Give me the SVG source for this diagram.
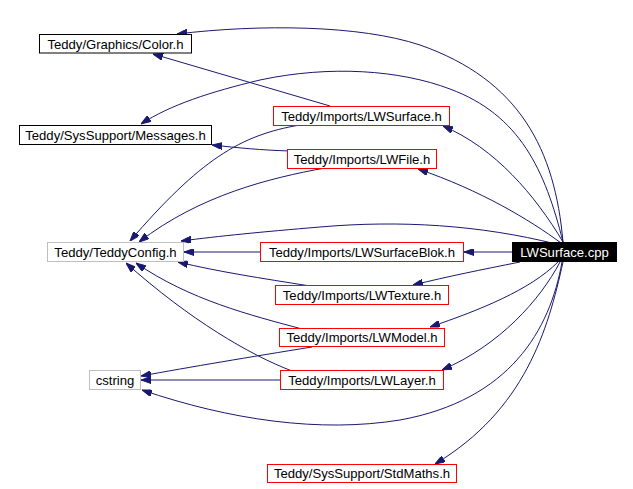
<svg xmlns="http://www.w3.org/2000/svg" width="633" height="489" viewBox="0 0 633 489">
<style>
.n rect{fill:#fff;stroke-width:1}
.b rect{stroke:#000}
.r rect{stroke:#f00}
.g rect{stroke:#bfbfbf}
.n text{font-family:"Liberation Sans",Arial,sans-serif;font-size:13.1px;text-anchor:middle;fill:#000}
.k rect{fill:#000;stroke:#000}
.k text{fill:#fff}
#edges path{fill:none;stroke:#191970;stroke-width:1;marker-end:url(#ah)}
</style>
<defs>
<marker id="ah" viewBox="0 0 10 7" refX="10" refY="3.5" markerWidth="10" markerHeight="7" markerUnits="userSpaceOnUse" orient="auto">
<path d="M0,0 L10,3.5 L0,7 z" fill="#191970" stroke="#191970"/>
</marker>
</defs>
<rect width="633" height="489" fill="#fff"/>
<g id="edges">
<path d="M563,242 C555,150 520,80 420,45 C360,25 260,24 177,34"/>
<path d="M563,242 C545,170 520,115 450,89 C400,70 330,65 260,80 C210,92 170,105 141,124"/>
<path d="M563,242 C535,195 495,148 443,126"/>
<path d="M561,243 C530,220 480,190 418,169"/>
<path d="M556,244 C480,225 400,220 320,227 C260,232 220,236 181,241"/>
<path d="M512,252 L464,252"/>
<path d="M260,252 L184,252"/>
<path d="M520,262 C480,270 450,276 413,285"/>
<path d="M558,262 C530,290 480,310 430,327"/>
<path d="M560,262 C540,300 500,345 442,370"/>
<path d="M562,262 C550,330 510,400 400,420 C320,433 230,420 142,390"/>
<path d="M563,262 C548,330 525,410 435,464"/>
<path d="M330,106 L153,54"/>
<path d="M290,151 C260,150 240,148 212,145"/>
<path d="M300,125 C240,135 200,160 130,241"/>
<path d="M325,168 C270,178 200,195 139,242"/>
<path d="M310,286 C260,278 220,272 178,262"/>
<path d="M302,329 C250,315 190,300 136,263"/>
<path d="M292,371 C250,355 190,320 126,263"/>
<path d="M312,347 C250,357 190,367 141,376"/>
<path d="M280,380 L141,380"/>
</g>
<g id="color" class="n b"><rect x="39.5" y="34.5" width="152" height="18.5"/><text x="115.5" y="48.5">Teddy/Graphics/Color.h</text></g>
<g id="messages" class="n b"><rect x="19.5" y="125.5" width="192" height="19"/><text x="115.5" y="139.5">Teddy/SysSupport/Messages.h</text></g>
<g id="teddyconfig" class="n g"><rect x="47.5" y="242.5" width="136" height="19"/><text x="115.5" y="256.5">Teddy/TeddyConfig.h</text></g>
<g id="cstring" class="n g"><rect x="89.5" y="370.5" width="51" height="19"/><text x="115" y="384.5">cstring</text></g>
<g id="lwsurfaceh" class="n r"><rect x="273.5" y="106.5" width="176" height="19"/><text x="361.5" y="120.5">Teddy/Imports/LWSurface.h</text></g>
<g id="lwfile" class="n r"><rect x="287.5" y="149.5" width="149" height="19"/><text x="362" y="163.5">Teddy/Imports/LWFile.h</text></g>
<g id="lwsurfaceblok" class="n r"><rect x="260.5" y="242.5" width="203" height="19"/><text x="362" y="256.5">Teddy/Imports/LWSurfaceBlok.h</text></g>
<g id="lwsurfacecpp" class="n k"><rect x="512.5" y="242.5" width="104" height="19"/><text x="564.5" y="256.5">LWSurface.cpp</text></g>
<g id="lwtexture" class="n r"><rect x="275.5" y="285.5" width="173" height="19"/><text x="362" y="299.5">Teddy/Imports/LWTexture.h</text></g>
<g id="lwmodel" class="n r"><rect x="279.5" y="328.5" width="165" height="18"/><text x="362" y="342">Teddy/Imports/LWModel.h</text></g>
<g id="lwlayer" class="n r"><rect x="280.5" y="370.5" width="163" height="19"/><text x="362" y="384.5">Teddy/Imports/LWLayer.h</text></g>
<g id="stdmaths" class="n r"><rect x="267.5" y="464.5" width="189" height="18"/><text x="362" y="478">Teddy/SysSupport/StdMaths.h</text></g>
</svg>
